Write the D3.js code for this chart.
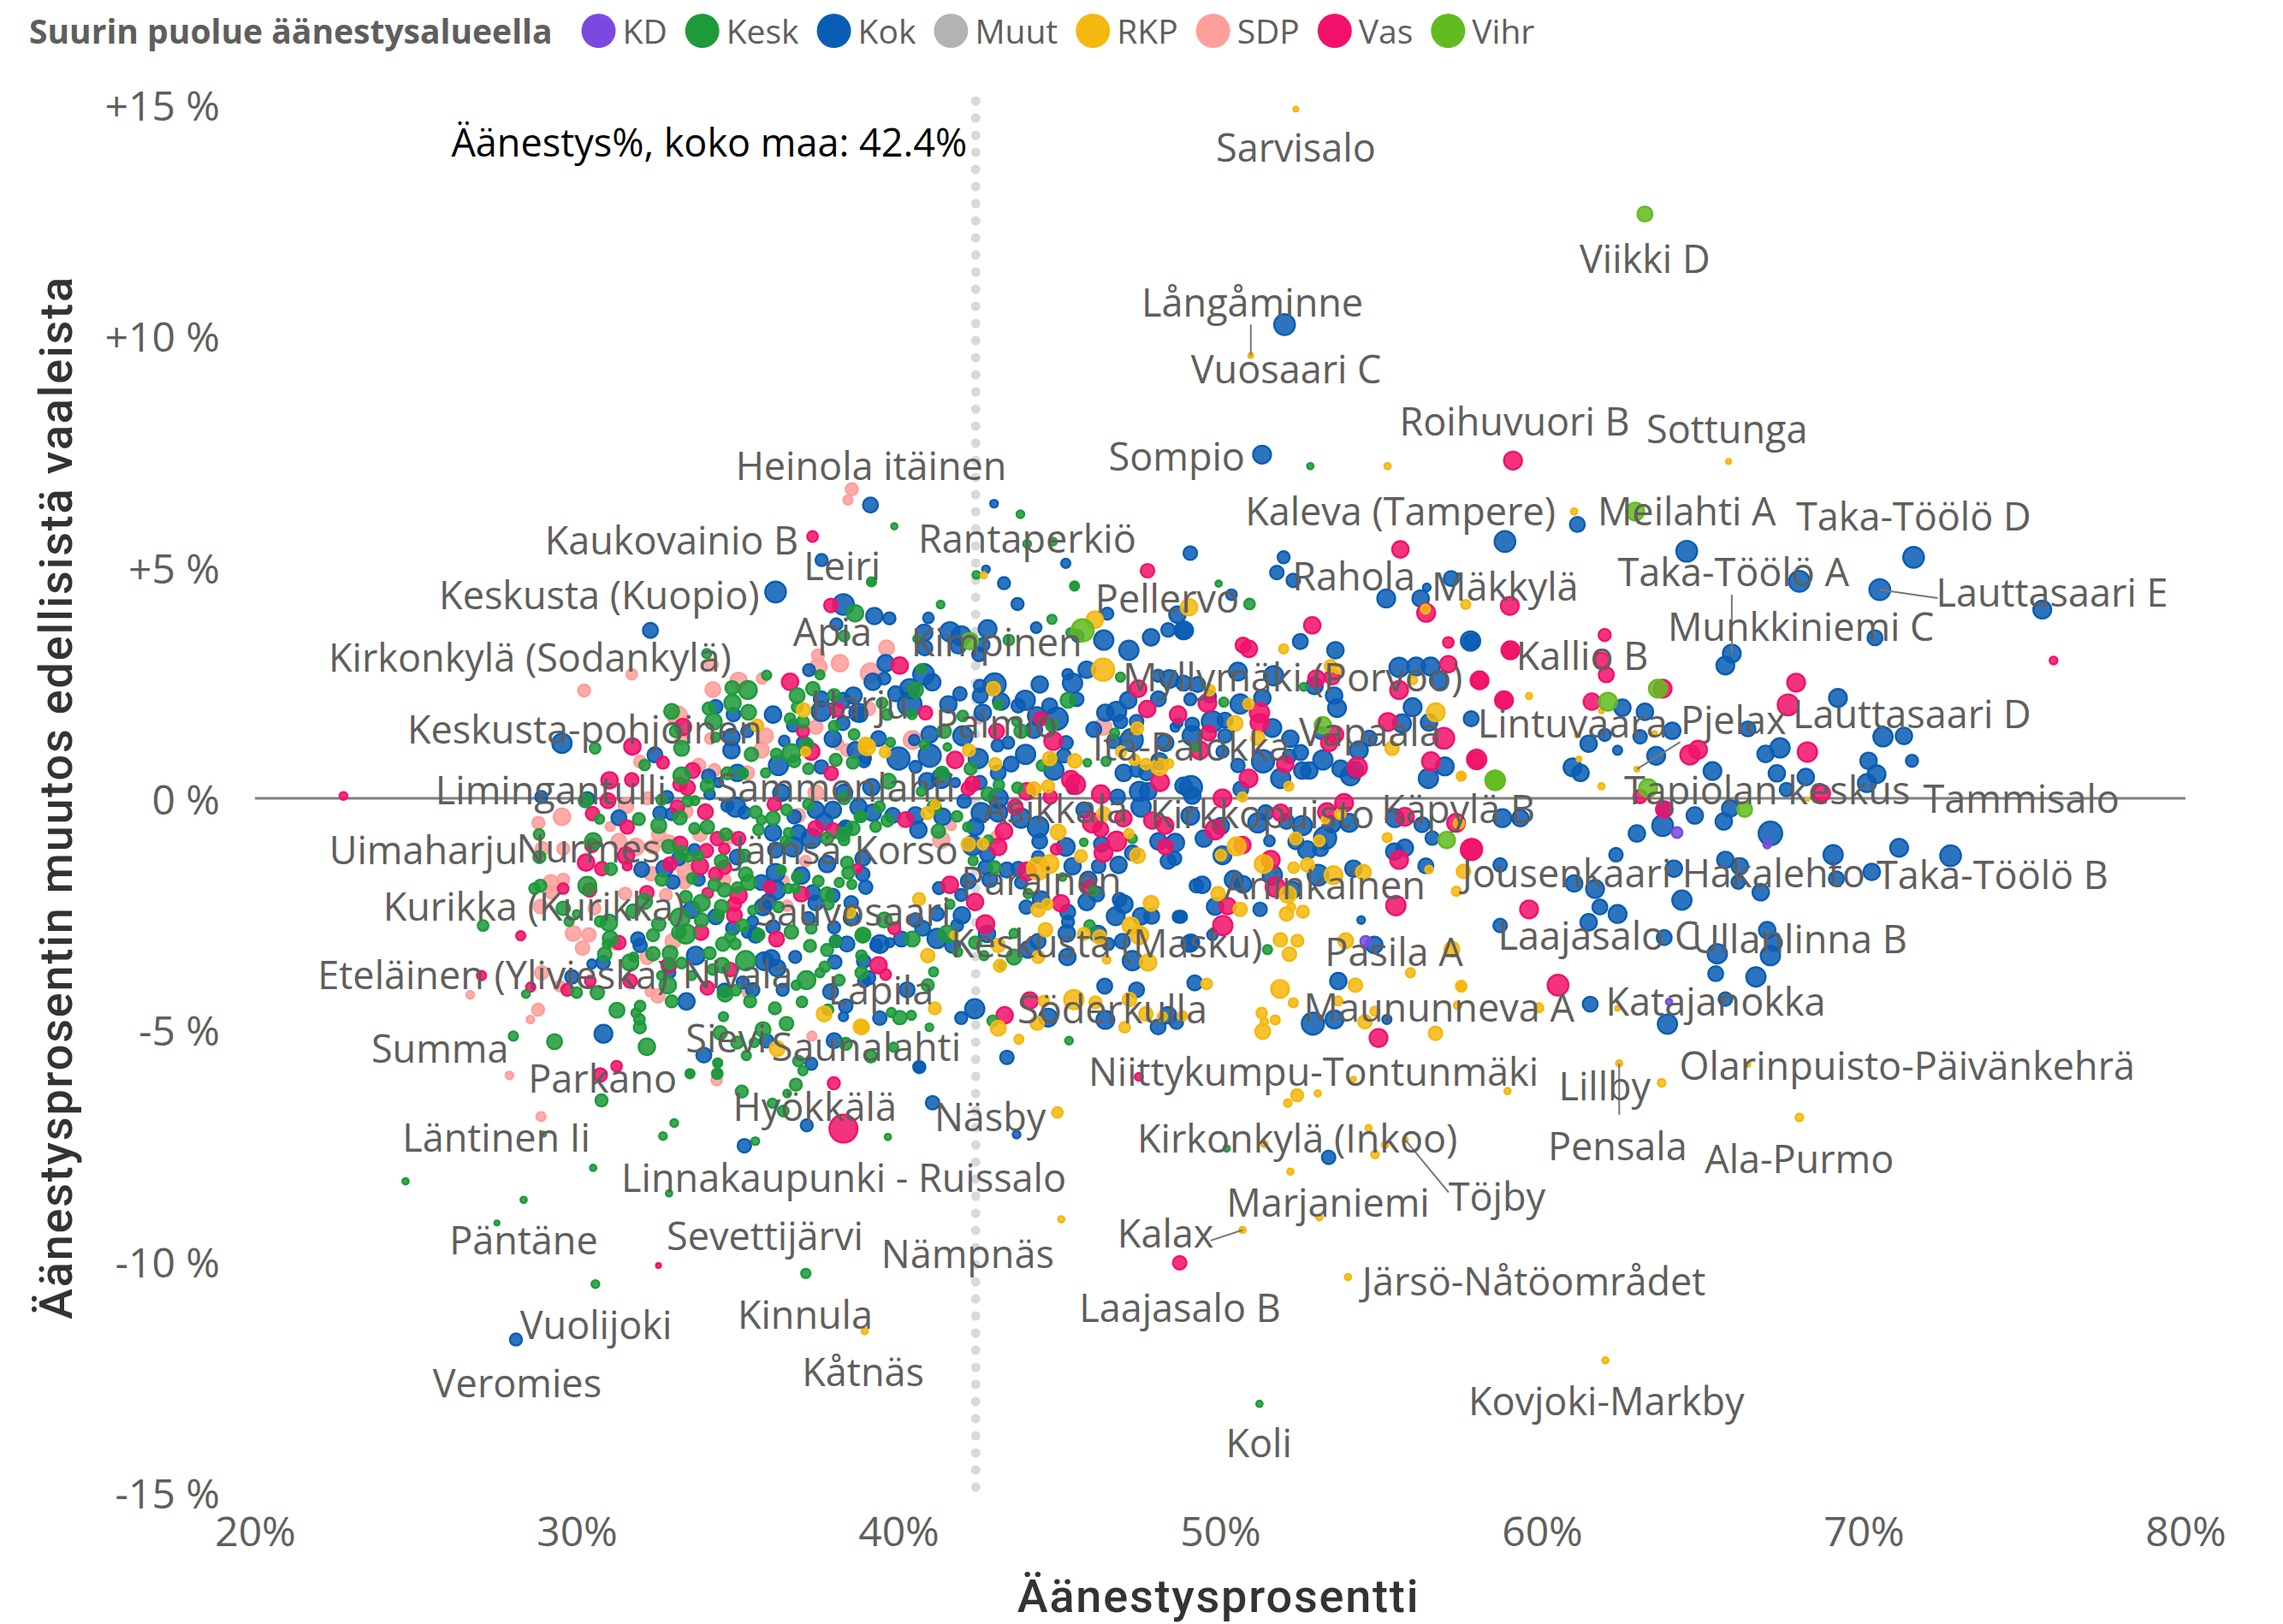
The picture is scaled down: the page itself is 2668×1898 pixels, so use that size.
<!DOCTYPE html>
<html>
<head>
<meta charset="utf-8">
<script src="https://cdn.jsdelivr.net/npm/d3@7"></script>
<style>
  html, body { margin: 0; background: #fff; }
  svg { display: block; }
  text { font-family: "Open Sans", sans-serif; }
</style>
</head>
<body>
<svg id="chart" width="2668" height="1898"></svg>
<script>
// [turnout %, change from previous election, marker size]
const sdp = [[38.55,6.68,8],[38.43,6.45,6],[39.63,3.25,10],[39.13,2.71,13],[40.28,2.29,6],[39.07,1.94,9],[42.48,1.73,7],[46.36,1.55,11],[40.44,1.26,12],[41.64,-0.59,6],[38.18,2.92,11],[37.5,3.09,8],[37.51,2.84,11],[31.71,2.68,7],[30.23,2.33,8],[34.19,2.89,8],[35.76,2.59,7],[35.03,2.54,11],[34.23,2.35,10],[33.13,1.78,13],[37.43,1.54,9],[35.87,1.35,10],[35.74,1.04,10],[33.26,1.29,8],[34.15,1.29,7],[31.97,0.79,8],[38.13,1.17,7],[38.4,1.04,8],[33.79,0.71,9],[34.28,0.61,8],[35.3,0.55,9],[31.53,-0.16,10],[32.2,0,8],[33.39,-0.28,9],[29.54,-0.4,11],[28.81,-0.53,8],[31.04,-0.61,6],[36.89,-0.37,9],[37.43,0.12,10],[28.93,-1.09,9],[29.58,-1.09,8],[31.31,-0.93,10],[31.84,-1.05,11],[32.37,-1.05,9],[32.55,-0.78,9],[32.86,-0.96,10],[32.31,-1.63,9],[33.39,-1.58,11],[33.35,-1.82,8],[33.83,-0.78,9],[34.77,-0.84,8],[34.57,-1.76,9],[32.77,-2.09,8],[31.51,-2.06,8],[32.99,-3.09,10],[29.89,-2.92,10],[30.38,-2.95,9],[30.18,-3.24,9],[31.18,-3.14,8],[32.19,-3.44,9],[29.2,-1.82,10],[29.58,-1.76,8],[29.22,-2.04,8],[28.87,-2.34,9],[30.55,-2.38,8],[28.91,-3.77,9],[29.47,-4.06,7],[32.52,-4.27,9],[32.28,-4.18,6],[28.8,-4.57,8],[28.56,-4.78,5],[35.3,-4.21,6],[36.43,-1.79,7],[37.11,-1.36,7],[36.54,-2.32,7],[37.31,-5.14,6],[34.35,-6.09,7],[38.86,-4.99,6],[38.87,-4.99,6],[26.69,-4.25,5],[27.91,-5.99,5],[28.89,-6.88,6],[41.33,-0.9,11],[43.06,-0.84,8]];

const vas = [[37.33,5.66,7],[40.04,2.87,11],[40.84,1.85,9],[44.43,1.72,9],[43.05,1.45,10],[44.81,1.24,12],[41.76,0.83,11],[42.3,0.31,10],[42.17,0.21,9],[43.99,0.15,11],[45.36,0.4,12],[45.5,0.3,13],[44.72,0.03,9],[46.29,0.09,12],[47.45,2.37,11],[47.73,1.93,11],[48.69,1.81,11],[48.13,0.35,12],[40.22,-0.46,10],[43.28,-0.71,11],[43.63,-0.19,10],[46.03,-0.53,13],[46.99,-0.43,11],[46.29,-0.67,10],[47.89,-0.48,11],[48.29,-0.59,11],[43.1,-1.05,11],[44.9,-1.1,7],[46.37,-1.18,12],[46.78,-0.93,13],[48.29,-1.05,10],[43.99,-1.58,12],[41.6,-1.87,11],[42.38,-2.24,11],[45.05,-2.27,11],[45.94,-1.92,9],[42.7,-2.72,12],[39.87,-2.81,8],[39.38,-3.61,11],[39.6,-3.81,7],[44.08,-4.37,11],[43.3,-4.69,11],[37.9,4.17,9],[36.63,2.52,11],[38.09,1.91,9],[37.03,1.45,8],[33.3,1.54,11],[31.73,1.12,11],[32.68,0.77,8],[37.29,1.01,11],[37.91,0.54,9],[33.6,0.6,10],[31.02,0.39,11],[31.71,0.4,9],[33.21,0.3,9],[33.44,0.23,10],[30.97,-0.05,10],[33.13,-0.19,9],[34,-0.29,10],[30.49,-0.33,9],[31.57,-0.62,9],[36.14,-0.13,9],[37.43,-0.65,10],[37.96,-0.68,9],[30.47,-1.02,9],[30.29,-1.39,11],[30.78,-1.52,9],[31.53,-1.24,11],[31.57,-1.46,6],[33.21,-0.99,10],[32.9,-1.42,9],[34.03,-1.13,9],[33.83,-1.47,11],[34.37,-0.87,9],[35.03,-0.87,9],[34.59,-1.09,7],[34.32,-1.64,9],[34.59,-1.49,9],[35.03,-2.1,11],[34.9,-2.29,9],[34.9,-2.53,10],[34.07,-2.05,7],[33.86,-2.9,10],[32.18,-2.04,9],[31.31,-3.12,9],[30.4,-1.98,9],[29.58,-1.95,7],[32.86,-3.61,10],[31.66,-3.95,9],[30.42,-3.95,7],[29.71,-4.14,8],[34.77,-3.7,9],[34.06,-4.1,9],[36,-1.92,8],[36.98,-2.07,10],[38.71,-1.52,6],[36.21,-3.04,10],[28.26,-2.97,6],[27.04,-3.83,6],[28.57,-4.08,6],[31.24,-5.79,7],[30.73,-5.98,9],[37.99,-6.16,8],[38.29,-7.14,19],[32.54,-10.1,3],[47.47,-6.02,5],[48.74,-10.04,9],[47.74,4.92,9],[55.6,5.38,11],[59.1,7.3,12],[52.86,3.74,11],[50.71,3.31,10],[50.89,3.23,11],[56.4,4.01,12],[59,4.16,12],[57.09,3.37,7],[59.02,3.2,12],[57.09,2.9,11],[52.99,2.59,11],[53.48,2.62,10],[55.56,2.34,12],[58.06,2.55,12],[58.82,2.12,12],[49.6,2.06,12],[51.22,1.85,13],[51.22,1.63,12],[55.21,1.65,12],[53.57,1.38,11],[56.95,1.3,14],[49.64,1.41,10],[49.36,1.04,12],[53.39,1.2,11],[52.02,0.74,11],[54.26,0.67,13],[56.55,0.8,12],[57.97,0.84,13],[50.88,0.43,12],[50.07,0,12],[53.85,-0.1,12],[49.84,-0.68,13],[51.88,-0.31,11],[53.32,-0.3,12],[55.74,-0.4,12],[57.33,-0.53,12],[50.69,-1.01,11],[55.56,-1.33,12],[57.82,-1.1,14],[51.57,-1.33,12],[51.71,-1.92,13],[50.23,-2.33,11],[55.46,-2.32,13],[50.08,-2.75,13],[54.92,-5.18,12],[61.95,3.53,8],[59,3.18,10],[61.85,2.99,10],[62,2.67,10],[58.05,2.55,10],[58.8,2.12,10],[63.75,2.37,12],[67.9,2.5,12],[67.65,2.02,14],[61.55,2.09,11],[64.6,0.94,13],[64.85,1.05,12],[68.25,1,13],[75.9,2.98,5],[57.95,0.83,10],[68.7,0.11,11],[63.05,0.04,9],[63.8,-0.24,11],[57.8,-1.11,14],[59.6,-2.4,12],[60.5,-4.04,14],[22.75,0.05,5]];

const kok = [[36.18,4.46,14],[38.29,4.19,14],[32.29,3.63,10],[38.07,3.76,8],[37.22,2.77,8],[34.32,1.98,9],[34.87,1.81,9],[36.1,1.81,11],[37.6,2.15,10],[38.6,2.22,11],[37.6,1.88,13],[38.27,2.12,10],[38.75,1.85,12],[38.27,1.62,9],[36.72,1.57,8],[35.3,1.45,8],[34.81,1.32,11],[34.81,1.04,11],[36.45,1.24,7],[29.54,1.19,13],[32.43,0.94,10],[37.96,1.29,11],[38.67,1.04,11],[37.05,1.2,9],[36.27,0.71,13],[37.6,0.68,9],[38.93,0.8,8],[34.1,0.48,9],[34.99,0.55,11],[34.41,0.34,6],[34.13,0.09,7],[30.33,-0.01,9],[28.9,0.03,8],[32.81,0.03,8],[32.59,-0.32,9],[32.95,-0.34,8],[31.31,-0.42,10],[34.94,-0.19,13],[34.68,-0.16,8],[35.21,-0.31,8],[36.76,-0.4,9],[36.36,0.12,11],[37.43,-0.25,11],[37.96,-0.25,11],[38.31,0.12,11],[38.76,-0.19,11],[37.69,-0.5,11],[38.31,-0.68,10],[36.1,-0.74,11],[36.89,-0.74,10],[32.02,-1.54,10],[32.73,-1.52,11],[32.99,-1.81,9],[33.17,-1.3,9],[33.66,-1.12,8],[33.79,-1.76,8],[34.99,-1.27,10],[33.57,-2.41,11],[34.32,-2.56,10],[31.9,-3.04,9],[31.97,-3.18,9],[30.82,-3.55,9],[30.47,-3.58,6],[33.7,-3.4,12],[32.9,-3.77,7],[29.85,-3.86,9],[33.41,-4.39,11],[30.83,-5.09,12],[33.95,-5.55,10],[34.59,-4.15,9],[35.47,-4.14,9],[35.16,-3.98,8],[35.83,-3.52,12],[36.05,-3.46,11],[36.23,-3.67,11],[36.4,-4.14,8],[36.79,-3.43,8],[37.89,-4.18,10],[38.02,-3.54,9],[35.9,-5.24,9],[37.29,-5.74,8],[38,-5.24,10],[38.36,-4.49,9],[38.29,-4.72,6],[37.29,-0.87,13],[36.72,-1.05,13],[36.18,-1.12,10],[36.18,-1.61,12],[35.74,-1.82,10],[36.18,-1.98,13],[36.98,-1.67,11],[37.34,-2.04,10],[37.43,-2.26,10],[37.96,-2.1,9],[38.98,-1.92,9],[38.89,-1.64,9],[37.78,-1.42,11],[38.36,-0.62,9],[38.89,-1.3,10],[38.53,-2.26,9],[38.53,-2.59,10],[38,-2.79,8],[38.4,-3.15,10],[38.05,-3.09,8],[37.2,-2.59,8],[35.56,-2.96,10],[35.3,-2.9,7],[34.85,-2.81,9],[35.47,-2.66,7],[36.1,-2.78,9],[35.79,-2.35,11],[35.96,-2.23,10],[37.15,-7.07,8],[41.06,-6.58,9],[35.21,-7.51,9],[40.63,-5.8,7],[28.11,-11.7,8],[43.67,-7.27,5],[39.25,3.94,11],[39.72,3.89,8],[40.93,3.9,7],[43.7,4.2,8],[43.28,4.65,8],[44.28,3.69,7],[46.49,3.99,8],[45.57,3.51,8],[46.38,3.42,13],[48.67,3.97,11],[48.38,3.64,9],[48.86,3.63,12],[47.85,3.48,11],[47.16,3.2,13],[40.8,3.58,11],[40.82,3.25,10],[41.6,3.6,13],[41.95,3.51,13],[41.86,3.29,10],[42.5,3.11,9],[42.62,3.32,9],[42.77,3.66,12],[39.6,2.92,11],[39.2,2.52,11],[39.56,2.59,8],[40.78,2.68,14],[41.05,2.51,11],[41.91,2.26,9],[40.35,2.37,13],[39.91,2.26,10],[40.35,2.03,16],[38.8,1.81,10],[41.55,2.03,11],[42.53,2.43,8],[42.99,2.46,15],[42.54,2.22,10],[43.19,2.09,11],[42.62,1.85,11],[44.39,2.46,11],[43.94,2.12,13],[43.72,2,9],[44.3,1.78,12],[44.92,1.72,15],[44.7,2,10],[44.21,1.48,11],[42,1.35,13],[40.97,1.38,11],[45.54,2.14,9],[45.41,2.49,13],[45.26,2.68,7],[45.85,2.78,11],[47.14,2.12,11],[48.08,2.15,10],[48.42,2.58,12],[48.07,2.65,8],[48.86,2.49,10],[46.43,1.85,11],[46.78,1.88,13],[46.9,1.66,9],[46.07,1.49,10],[47.4,1.66,9],[48.6,1.54,6],[48.69,1.63,6],[47.25,1.26,15],[46.69,1.23,9],[48.29,1.2,11],[45.21,1.2,9],[45.14,0.92,9],[47,0.55,11],[47.4,0.61,9],[47.71,0.55,10],[48.11,0.8,11],[43.95,0.95,13],[43.41,1.2,8],[43.08,1.14,8],[43.5,0.74,10],[44.83,0.61,13],[42.48,0.86,13],[43.1,0.55,10],[40.97,0.92,15],[40.49,1.26,7],[39.38,1.29,10],[40,0.86,15],[38.98,0.86,7],[41.33,0.43,13],[40.53,0.68,8],[41.77,0.34,6],[42.53,0.34,9],[45.41,0.21,7],[43.1,0,13],[46.81,0.03,10],[47.49,0.15,13],[47.76,0.15,11],[48.86,0.27,11],[39.16,0.24,11],[40.89,0.37,11],[42.04,-0.06,9],[41.37,-0.4,11],[40.53,-0.37,11],[39.82,-0.37,10],[39.2,-0.31,11],[40.62,-0.68,11],[42.57,-0.31,13],[42.39,-0.62,11],[43.1,-0.31,12],[43.81,-0.43,13],[44.34,-0.62,14],[45.76,-0.25,10],[47.54,-0.19,13],[42.3,-1.02,13],[42.77,-1.21,10],[44.39,-0.93,10],[45.2,-1.05,12],[46.31,-0.99,10],[47.27,-1.18,10],[48.08,-0.93,11],[48.6,-0.96,12],[48.38,-1.36,10],[48.58,-1.3,9],[44.34,-1.27,8],[45.41,-1.47,11],[46.22,-1.47,9],[46.84,-1.44,11],[45.9,-1.76,11],[46.16,-2.07,10],[45.85,-2.24,11],[46.87,-2.19,9],[47,-2.29,12],[46.75,-2.55,12],[47.54,-2.55,11],[47.87,-2.55,10],[48.71,-2.56,8],[49.26,-1.89,9],[43.72,-1.52,9],[43.37,-1.55,10],[42.7,-1.49,9],[42.84,-1.76,10],[43.81,-1.82,8],[42.17,-1.79,10],[41.26,-1.94,8],[41.95,-2.09,8],[43.97,-2.35,9],[44.43,-2.19,11],[45.26,-2.46,10],[45.27,-2.67,8],[45.23,-2.92,11],[45.25,-3.43,11],[46.2,-2.93,11],[46.52,-3.15,8],[46.96,-3.09,10],[47.27,-3.51,13],[49.09,-3.12,11],[41.97,-2.53,11],[41.2,-2.5,9],[40.53,-2.63,9],[41.82,-2.75,8],[42.75,-2.93,11],[41.2,-3.03,13],[40.09,-3.04,10],[40.75,-2.81,10],[39.42,-3.15,12],[39.31,-3.18,8],[39.73,-3.12,6],[41.68,-3.18,10],[44.03,-3.27,11],[44.34,-3.09,10],[38.92,-3.52,9],[39.07,-3.88,9],[38.93,-3.95,8],[40.27,-4.14,10],[39.42,-4.75,9],[42.37,-4.55,13],[41.95,-4.75,8],[43.37,-5.6,9],[40.65,-5.81,8],[44.65,-4.74,12],[46.43,-4.79,12],[48.07,-4.94,10],[47.4,-4.14,10],[46.41,-4.06,10],[48.38,-4.69,11],[48.64,-4.84,9],[45.2,5.08,6],[49.07,5.3,9],[51.97,5.21,8],[51.76,4.88,9],[52.27,4.71,9],[57.18,4.75,10],[42.97,6.37,5],[42.72,4.95,5],[39.13,6.34,10],[37.61,5.15,8],[52,10.24,14],[51.3,7.43,12],[61.1,5.92,10],[55.16,4.32,12],[56.23,4.32,11],[56.42,4.56,5],[48.9,3.63,11],[50.35,4.4,7],[52.49,3.39,10],[53.58,3.2,11],[57.78,3.4,13],[50.55,2.74,12],[51.66,2.65,13],[55.56,2.83,13],[56.09,2.85,12],[56.54,2.85,12],[52.93,2.43,11],[56.8,2.55,12],[49.3,2.46,10],[49.07,2.14,8],[49.68,2.2,8],[50.62,2.04,13],[51.31,2.17,11],[53.54,2.22,11],[53.63,1.95,12],[55.98,1.97,12],[55.65,1.62,12],[56.49,1.64,11],[53.12,1.41,8],[54.63,1.3,10],[49.13,1.6,9],[49.75,1.66,14],[50.15,1.69,10],[51.62,1.52,12],[50.15,1.35,9],[49.13,1.35,13],[50.07,1.01,8],[52.18,1.29,11],[52.5,0.99,10],[54.31,1.04,12],[53.19,0.83,13],[52.15,0.91,9],[51.33,0.8,15],[50.55,0.71,9],[52.55,0.6,11],[52.77,0.6,11],[53.74,0.64,11],[54.05,0.49,13],[54.19,0.61,11],[56.98,0.69,12],[56.47,0.43,13],[51.88,0.43,13],[50.64,0.2,10],[49.09,0.24,15],[49.13,0.06,11],[49.07,-0.38,12],[50.02,-0.6,11],[51.41,-0.31,10],[51.17,-0.53,13],[52.06,-0.5,10],[52.55,-0.59,13],[54.01,-0.53,12],[53.48,-0.56,11],[55.43,-0.43,12],[56.27,-0.57,10],[58.77,-0.43,12],[59.33,-0.43,11],[49.49,-0.87,11],[51.53,-0.92,7],[52.35,-0.94,10],[52.7,-1.12,12],[53.26,-0.86,15],[53.12,-1.09,10],[50.07,-1.23,12],[55.41,-1.15,11],[55.74,-1.07,11],[56.59,-0.86,9],[56.39,-1.46,10],[51.62,-1.66,13],[53.04,-1.66,14],[54.14,-1.52,11],[50.42,-1.76,12],[50.71,-1.86,11],[49.44,-1.87,11],[52.24,-1.98,11],[49.84,-2.34,11],[51.24,-2.4,9],[48.78,-2.56,8],[49.76,-2.95,7],[49.05,-3.14,11],[54.38,-2.63,5],[54.79,-3.17,11],[49.21,-3.99,10],[53.67,-3.95,11],[52.88,-4.87,15],[53.55,-4.78,12],[55.18,-4.78,6],[53.37,-7.76,9],[58.85,5.55,14],[64.5,5.34,14],[71.55,5.21,14],[70.5,4.51,14],[68,4.69,14],[75.55,4.08,12],[70.35,3.47,10],[65.9,3.13,12],[65.7,2.87,12],[69.2,2.17,12],[57.8,3.39,10],[62.5,1.96,11],[63.2,1.87,11],[57.8,1.72,10],[64.05,1.46,11],[66.4,1.5,10],[61.45,1.18,11],[61.95,1.37,8],[63.05,1.33,9],[62.35,1.04,6],[63.55,0.92,12],[66.95,0.96,11],[67.4,1.09,13],[70.6,1.33,13],[71.25,1.35,11],[71.5,0.81,8],[70.15,0.81,11],[70.4,0.52,12],[70.1,0.33,12],[60.95,0.67,12],[61.2,0.55,11],[65.3,0.59,12],[67.3,0.54,11],[68.2,0.46,11],[67.6,0.19,9],[63.8,-0.24,10],[63.75,-0.59,14],[62.95,-0.76,11],[64.75,-0.37,11],[65.65,-0.5,11],[65.85,-0.22,11],[67.1,-0.76,16],[69.05,-1.22,13],[70.25,-1.59,11],[71.1,-1.07,12],[72.7,-1.24,14],[69.15,-1.74,10],[65.7,-1.33,11],[66.15,-1.47,11],[66.1,-1.81,9],[66.8,-2.03,11],[64.1,-1.52,11],[62.3,-1.22,9],[61,-1.84,11],[61.65,-1.96,12],[61.8,-2.35,10],[62.35,-2.5,12],[64.35,-2.2,13],[58.7,-1.44,9],[61.45,-2.68,11],[58.7,-2.75,9],[63.8,-3.01,10],[67,-2.85,11],[67.2,-3.12,11],[65.45,-3.36,13],[67.1,-3.4,13],[65.4,-3.79,10],[66.65,-3.86,13],[61.5,-4.45,10],[65.7,-4.34,9],[63.9,-4.88,13]];

const kesk = [[38.65,4,11],[38.31,3.51,7],[37.56,2.67,6],[34.04,3.13,6],[35.9,2.66,6],[34.83,2.39,9],[35.32,2.34,12],[34.84,2.06,11],[36.85,2.22,10],[37.34,2.37,9],[36.85,1.97,7],[36.63,1.72,7],[35.34,1.86,10],[34.1,1.94,8],[34.25,1.66,11],[32.95,1.88,10],[38,2.23,8],[38,1.56,7],[37.03,1.65,8],[33.08,1.45,8],[34.32,1.32,6],[33.26,1.08,10],[30.57,1.08,7],[32.11,0.72,7],[35.43,0.95,9],[38.62,1.38,7],[37.16,1.17,8],[36.67,0.98,12],[36.2,0.96,7],[36.76,0.8,8],[38.05,0.83,8],[38.58,0.77,8],[37.2,0.64,7],[33.26,0.49,11],[34.68,0.54,8],[35.16,0.54,7],[34.06,0.27,9],[35.87,0.55,6],[30.27,-0.05,9],[32.64,-0.03,7],[33.45,-0.06,7],[33.67,-0.05,6],[30.71,-0.45,6],[31.93,-0.45,8],[33.21,-0.42,9],[35.56,-0.3,8],[36.1,-0.43,9],[36.52,-0.25,7],[35.74,-0.47,6],[37.2,-0.13,7],[38.31,0,8],[38.58,-0.65,9],[38.84,-0.4,7],[35.65,-0.68,7],[36.58,-0.74,6],[28.83,-0.78,7],[28.84,-1.27,8],[30.51,-0.93,11],[31.06,-1.53,8],[32.55,-0.59,10],[32.86,-1.04,9],[32.64,-1.76,8],[33.26,-1.18,9],[33.79,-1.24,6],[33.48,-1.27,6],[33.59,-1.73,7],[33.66,-0.65,7],[34.06,-0.62,9],[34.63,-0.78,8],[34.5,-1.36,9],[34.28,-1.87,8],[35.25,-1.64,9],[35.34,-1.82,10],[34.99,-1.93,7],[34.59,-1.98,9],[33.39,-2.13,8],[33.88,-2.26,11],[34.5,-2.34,9],[33.88,-2.63,9],[34.41,-2.53,7],[33.39,-2.93,13],[33.17,-2.9,9],[33.21,-2.59,13],[32.55,-2.72,9],[32.37,-2.96,8],[32.11,-2.23,10],[31.75,-2.44,9],[31,-2.69,11],[31.04,-3.03,10],[30.95,-3.15,6],[30.87,-3.37,9],[30.33,-1.89,12],[28.69,-1.95,7],[28.87,-1.89,8],[29.58,-2.38,9],[29.76,-2.66,6],[30,-2.5,5],[30.73,-2.66,7],[32.9,-3.35,10],[32.37,-3.36,9],[34.13,-3.35,8],[33.26,-3.56,7],[32.88,-3.6,6],[32.64,-3.83,6],[31.66,-3.55,11],[31.77,-3.43,6],[30,-4.2,7],[30.64,-4.2,9],[32.83,-4.04,11],[32.95,-4.39,8],[31.25,-4.58,10],[31.97,-4.49,7],[31.84,-4.64,6],[31.95,-4.78,7],[31.96,-4.95,8],[29.31,-5.26,10],[32.18,-5.37,11],[33.52,-5.95,6],[34.37,-5.95,7],[34.38,-5.72,6],[33.57,-3.83,6],[34.52,-3.61,10],[34.23,-3.7,7],[34.61,-4.23,10],[34.94,-4.15,7],[35.39,-4.39,8],[35.25,-3.51,13],[36.82,-4.04,6],[37.14,-3.93,12],[37.56,-3.77,6],[37.71,-3.64,7],[38.16,-3.93,7],[37,-4.4,7],[36.16,-4.54,8],[34.56,-4.72,6],[35.79,-5,10],[36.52,-4.87,9],[34.46,-5.07,9],[34.99,-5.28,8],[35.52,-5.28,6],[35.27,-5.56,6],[36.89,-5.68,7],[37.03,-5.89,6],[38.36,-5.31,8],[37.81,-4.57,7],[36.5,-0.93,7],[35.21,-1.24,8],[36.58,-1.95,6],[36.8,-1.95,6],[36.85,-1.7,7],[36.36,-1.55,6],[37.78,-2.07,9],[37.82,-2.29,7],[37.51,-1.79,7],[38.16,-1.82,6],[38.55,-1.86,6],[38.44,-1.61,8],[38.4,-1.39,8],[38.27,-0.78,9],[37.78,-0.87,8],[38.31,-0.9,7],[38.89,-2.96,10],[38.05,-3.09,7],[37.78,-3.28,8],[37.25,-3.19,8],[36.67,-2.89,9],[37.29,-2.81,7],[35.65,-2.95,8],[35.16,-2.75,8],[35.47,-2.42,6],[36.27,-2.35,7],[34.77,-3,7],[34.54,-3.15,9],[34.93,-3.15,7],[27.09,-2.75,7],[28.42,-4.23,5],[28.03,-5.14,6],[30.77,-6.53,8],[28.97,-7.26,3],[33.03,-7.02,5],[32.68,-7.3,5],[35.55,-7.41,5],[39.67,-7.32,4],[36.08,-6.59,6],[36.42,-6.76,7],[35.13,-6.34,8],[36.81,-6.19,8],[36.54,-6.38,5],[33.52,-5.97,5],[34.35,-5.96,6],[34.39,-5.73,5],[24.68,-8.28,4],[30.51,-7.99,4],[28.35,-8.68,4],[32.87,-8.54,4],[27.52,-9.18,3],[30.58,-10.5,5],[37.12,-10.27,6],[39.87,5.88,4],[39.17,4.66,4],[43.79,6.14,5],[42.42,4.83,5],[44.8,5.55,5],[44,5.5,5],[45.48,4.58,5],[49.95,4.64,4],[39.16,4.68,6],[41.31,4.19,5],[45.47,4.59,6],[44.77,3.87,6],[45.36,3.58,6],[40.58,3.45,5],[43.43,3.42,7],[40.71,2.8,6],[40.53,2.34,10],[39.49,2.06,7],[39.65,1.81,7],[40.42,1.81,6],[43.1,2.02,6],[42,1.78,7],[43.68,1.66,6],[44.77,1.58,8],[43.81,1.45,9],[41.42,1.45,9],[45.27,2.12,10],[46.9,2.62,6],[46.72,1.41,6],[45.87,0.77,5],[46.45,0.8,6],[44.79,0.86,6],[44.46,0.71,7],[42.24,0.64,8],[40.8,1.16,6],[39.75,1.21,6],[41.52,1.11,5],[41.35,0.54,9],[39.69,0.37,10],[43.12,0.29,7],[43.7,0.23,7],[42.79,0.09,9],[40.71,0.15,6],[41.11,-0.19,9],[39.41,-0.18,7],[41.82,-0.39,7],[39.66,-0.48,8],[42.15,-0.62,6],[38.8,-0.4,7],[39.29,-0.61,7],[41.24,-0.71,9],[42.79,-0.9,6],[42.32,-1.35,6],[45.76,-0.95,5],[47.27,-0.87,6],[45.1,-1.7,5],[46.05,-2.01,6],[42.99,-1.49,8],[44.03,-2.06,6],[45.94,-2.75,7],[41.6,-2.29,6],[41.51,-2.93,11],[40.43,-3.04,10],[38.92,-2.95,9],[39.56,-2.63,10],[42.38,-3.12,8],[41.84,-3.32,6],[42.66,-3.4,6],[43.59,-3.43,10],[43.59,-2.92,6],[38.85,-3.4,7],[38.85,-3.77,8],[41.09,-3.75,6],[43.22,-3.61,5],[40.91,-4.04,8],[39.78,-4.63,6],[40.04,-4.74,9],[40.4,-4.69,6],[40.96,-4.95,5],[42.93,-4.81,7],[45.3,-5.24,5],[39.85,-5.38,6],[39.14,-5.58,8],[52.8,7.18,4],[50.91,4.2,7],[52.59,2.41,5],[50.11,2.08,6],[49.24,1.11,5],[51.47,-3.27,6],[50.2,-7.57,4],[51.22,-13.09,4]];

const rkp = [[52.35,14.9,3],[50.95,9.57,3],[55.2,7.18,4],[65.8,7.28,3],[61,6.2,4],[42.65,4.82,4],[46.1,3.86,11],[46.36,2.78,15],[42.95,2.37,9],[47.42,1.51,8],[46.92,1.01,7],[47.34,0.83,7],[47.69,0.74,7],[48.11,0.68,11],[48.4,0.75,6],[45.48,0.81,9],[44.7,0.86,9],[43.01,0.74,8],[42.19,1.04,8],[39.58,1,7],[39.02,1.11,11],[44.21,0.2,9],[44.65,0.26,8],[41.15,-0.13,6],[40.9,-0.32,8],[44.96,-0.73,10],[46.38,-0.34,9],[42.17,-0.99,9],[42.62,-0.99,7],[45.67,-1.25,8],[47.16,-0.76,6],[47.43,-1.24,10],[44.7,-1.42,12],[44.34,-1.52,15],[44.34,-2.41,9],[44.63,-2.29,7],[47.85,-2.27,10],[44.57,-2.84,9],[45.76,-2.93,8],[46.25,-3,9],[47.22,-2.75,11],[47.49,-2.96,12],[47.76,-3.55,11],[46.47,-3.49,5],[40.64,-2.18,8],[41.73,-2.96,5],[43.1,-3.18,9],[44.34,-3.43,8],[40.91,-3.4,9],[43.15,-3.62,8],[41.13,-4.54,8],[38.87,-4.95,9],[43.1,-4.97,10],[43.74,-5.21,6],[44.52,-4.38,7],[45.45,-4.35,13],[44.31,-4.86,9],[46.12,-4.41,8],[47.03,-4.95,7],[47.18,-4.35,9],[47.69,-4.66,9],[48.2,-4.72,6],[48.82,-4.71,6],[37.05,1.91,9],[35.61,1.57,8],[37.11,1.01,6],[38.98,1.17,9],[38.49,-2.47,7],[37.69,-4.66,10],[38.84,-4.94,10],[36.23,-5.41,10],[44.94,-6.79,7],[54.14,-6.07,3],[53.03,-6.38,4],[52.39,-6.42,8],[52.1,-6.59,5],[58.93,-6.33,4],[62.4,-5.73,4],[63.72,-6.15,5],[66.4,-5.75,3],[68,-6.9,5],[54.61,-7.13,4],[51.37,-7.47,4],[54.81,-7.7,5],[55.12,-7.49,4],[55.75,-7.38,3],[52.18,-8.07,4],[53.08,-9.06,4],[50.69,-9.33,4],[45.06,-9.1,4],[53.97,-10.35,4],[61.97,-12.15,4],[38.95,-11.52,4],[56.38,4.09,6],[57.63,4.19,6],[49.03,4.13,11],[51.97,3.23,6],[53.43,2.86,8],[53.66,2.8,6],[56,2.55,5],[49.67,2.34,7],[50.88,2.04,7],[56.7,1.86,12],[55.34,1.08,9],[50.46,1.62,10],[51.17,1.3,9],[57.49,0.48,6],[52.13,0.26,6],[50.69,0.03,6],[53.27,-0.46,5],[53.73,-0.34,7],[57.42,-0.54,7],[52.35,-0.87,8],[53.08,-0.92,7],[50.51,-1.04,12],[50.02,-1.23,7],[55.19,-0.85,6],[56.49,-1.54,5],[57.56,-1.58,9],[57.34,-2.01,6],[51.35,-1.42,12],[52.28,-1.5,7],[52.71,-1.44,9],[53.52,-1.66,12],[54.45,-1.6,10],[49.93,-2.06,9],[52.1,-2.08,11],[50.62,-2.4,9],[52.21,-2.35,5],[52.06,-2.5,9],[52.57,-2.45,8],[51.87,-3.06,9],[52.4,-3.08,8],[52.15,-3.37,9],[53.9,-3.08,10],[57.2,-3.26,10],[55.91,-3.77,6],[49.58,-4.01,7],[54.2,-4.04,9],[51.86,-4.12,12],[52.27,-4.42,6],[57.49,-4.06,7],[53.66,-4.38,6],[51.29,-4.64,7],[51.37,-4.83,5],[51.71,-4.79,6],[51.32,-5.04,10],[54.5,-4.83,9],[54.81,-4.6,6],[57.38,-4.47,5],[56.69,-5.08,9],[48.82,-4.7,6],[61.1,1.37,3],[63.5,1.4,3],[61.85,1.89,3],[59.6,2.21,4],[61.15,0.85,3],[62.95,0.63,3],[61.85,0.26,4],[57.5,0.48,3],[68.25,-0.02,2],[59.9,-4.53,6],[57.5,-4.08,6],[62.35,-4.54,3]];

const vihr = [[63.2,12.63,10],[62.9,6.2,12],[42.22,3.4,11],[45.72,3.63,15],[53.19,1.58,11],[57.04,-0.9,11],[58.54,0.39,13],[63.6,2.37,12],[62.05,2.09,12],[58.55,0.39,13],[63.3,0.22,12],[66.3,-0.24,10]];

const kd = [[54.52,-3.09,7],[64.2,-0.74,7],[67,-1,5],[63.95,-4.4,4]];

const muut = [];

const partyNames = ["KD", "Kesk", "Kok", "Muut", "RKP", "SDP", "Vas", "Vihr"];
const partyColors = ["#7A4AE0", "#1E9A3A", "#0A5DB4", "#B3B3B3", "#F4B80E", "#FF9E9B", "#F2116A", "#62BB1F"];

const xTicks = [20, 30, 40, 50, 60, 70, 80];
const yTicks = [15, 10, 5, 0, -5, -10, -15];
const nationalTurnout = 42.4;

// label name, turnout, change: where the label centre sits
const labels = [["Sarvisalo",52.35,14.05],["Viikki D",63.2,11.65],["Långåminne",51,10.7],["Vuosaari C",52.05,9.26],["Roihuvuori B",59.15,8.13],["Sottunga",65.75,7.97],["Sompio",48.65,7.37],["Heinola itäinen",39.15,7.18],["Kaleva (Tampere)",55.6,6.2],["Meilahti A",64.5,6.2],["Taka-Töölö D",71.55,6.08],["Rantaperkiö",44,5.6],["Kaukovainio B",32.95,5.57],["Leiri",38.25,5],["Rahola",54.15,4.79],["Mäkkylä",58.85,4.57],["Taka-Töölö A",65.95,4.88],["Lauttasaari E",75.85,4.44],["Keskusta (Kuopio)",30.7,4.38],["Pellervo",48.35,4.31],["Munkkiniemi C",68.05,3.69],["Apia",37.95,3.59],["Kimpinen",43.05,3.37],["Kirkonkylä (Sodankylä)",28.55,3.02],["Kallio B",61.25,3.06],["Myllymäki (Porvoo)",52.25,2.61],["Harju",38.8,2.02],["Paimio",43.05,1.61],["Lauttasaari D",71.5,1.8],["Pjelax",65.95,1.67],["Lintuvaara",60.95,1.61],["Keskusta-pohjoinen",30.25,1.48],["Vapaala",54.65,1.42],["Itä-Palokka",49.1,1.1],["Limingantulli",29.2,0.16],["Sammonlahti",38.06,0.22],["Tapiolan keskus",67,0.16],["Tammisalo",74.9,-0.03],["Asikkala",44.87,-0.25],["Kirkkopuisto",51.3,-0.35],["Käpylä B",57.4,-0.24],["Uimaharju",25.24,-1.13],["Nurmes",30.36,-1.09],["Jämsä",36.57,-1.13],["Korso",40.24,-1.13],["Parainen",44.44,-1.79],["Jousenkaari",60.77,-1.63],["Hakalehto",67.2,-1.63],["Taka-Töölö B",74,-1.67],["Aninkainen",53.25,-1.89],["Kurikka (Kurikka)",28.67,-2.35],["Sauvosaari",38.6,-2.46],["Keskusta (Masku)",46.47,-3.15],["Pasila A",55.4,-3.34],["Laajasalo C",61.75,-2.99],["Ullanlinna B",68,-3.06],["Eteläinen (Ylivieska)",27.4,-3.84],["Nivala",35,-3.81],["Lapila",39.45,-4.16],["Söderkulla",46.65,-4.57],["Maununneva A",56.8,-4.54],["Katajanokka",65.4,-4.41],["Summa",25.75,-5.42],["Sievi",34.65,-5.2],["Saunalahti",39,-5.38],["Parkano",30.8,-6.08],["Niittykumpu-Tontunmäki",52.9,-5.92],["Olarinpuisto-Päivänkehrä",71.35,-5.8],["Lillby",61.95,-6.24],["Hyökkälä",37.4,-6.68],["Näsby",42.85,-6.9],["Läntinen Ii",27.5,-7.34],["Kirkonkylä (Inkoo)",52.4,-7.37],["Pensala",62.35,-7.53],["Ala-Purmo",68,-7.81],["Linnakaupunki - Ruissalo",38.3,-8.22],["Töjby",58.6,-8.63],["Marjaniemi",53.35,-8.76],["Sevettijärvi",35.85,-9.48],["Kalax",48.3,-9.42],["Päntäne",28.35,-9.57],["Nämpnäs",42.15,-9.86],["Järsö-Nåtöområdet",59.75,-10.46],["Laajasalo B",48.75,-11.02],["Kinnula",37.1,-11.18],["Vuolijoki",30.6,-11.4],["Kåtnäs",38.9,-12.41],["Veromies",28.15,-12.66],["Kovjoki-Markby",62,-13.04],["Koli",51.2,-13.95]];

// leader lines between a point and its label
const leaders = [[70.5,4.51,72.3,4.33],[65.9,4.4,65.9,3.13],[64.3,1.22,62.95,0.63],[62.4,-5.73,62.4,-6.84],[55.75,-7.38,57.1,-8.52],[49.7,-9.56,50.7,-9.33],[50.95,10.24,50.95,9.57]];

const x = d3.scaleLinear().domain([20, 80]).range([298, 2554]);
const y = d3.scaleLinear().domain([-15, 15]).range([1744, 122]);
const r = d3.scaleLinear().domain([0, 16]).range([1.5, 15]);
const color = d3.scaleOrdinal().domain(partyNames).range(partyColors);

const svg = d3.select("#chart");
const grey = "#605E5C";

// x axis
svg.append("g")
    .attr("transform", "translate(0,1744)")
    .call(d3.axisBottom(x).tickValues(xTicks).tickFormat(d => d + "%").tickSize(0).tickPadding(29))
    .call(g => g.select(".domain").remove())
    .selectAll("text")
    .style("font-family", '"Open Sans", sans-serif')
    .style("font-size", "48px")
    .attr("fill", grey);

// y axis
svg.append("g")
    .attr("transform", "translate(257,3)")
    .call(d3.axisLeft(y).tickValues(yTicks).tickFormat(d => (d > 0 ? "+" : "") + d + " %").tickSize(0).tickPadding(0))
    .call(g => g.select(".domain").remove())
    .selectAll("text")
    .style("font-family", '"Open Sans", sans-serif')
    .style("font-size", "48px")
    .attr("fill", grey);

svg.append("text")
    .attr("x", 1424).attr("y", 1884)
    .attr("text-anchor", "middle")
    .style("font-family", "Roboto, sans-serif")
    .style("font-size", "54px")
    .style("font-weight", 500)
    .style("letter-spacing", "1.8px")
    .attr("fill", "#333")
    .text("Äänestysprosentti");

svg.append("text")
    .attr("transform", "translate(84,932) rotate(-90)")
    .attr("text-anchor", "middle")
    .style("font-family", "Roboto, sans-serif")
    .style("font-size", "54px")
    .style("font-weight", 500)
    .style("letter-spacing", "1.8px")
    .attr("fill", "#333")
    .text("Äänestysprosentin muutos edellisistä vaaleista");

// national turnout reference line
svg.append("line")
    .attr("x1", x(nationalTurnout)).attr("x2", x(nationalTurnout))
    .attr("y1", 118).attr("y2", y(-15))
    .attr("stroke", "#D9D9D9")
    .attr("stroke-width", 11)
    .attr("stroke-linecap", "round")
    .attr("stroke-dasharray", "0 20");

svg.append("text")
    .attr("x", x(nationalTurnout) - 10).attr("y", 183)
    .attr("text-anchor", "end")
    .style("font-size", "45px")
    .attr("fill", "#000")
    .text("Äänestys%, koko maa: " + nationalTurnout + "%");

svg.append("line")
    .attr("x1", x(20)).attr("x2", x(80))
    .attr("y1", y(0)).attr("y2", y(0))
    .attr("stroke", "#808080")
    .attr("stroke-width", 3);

// points, party by party
const seriesOrder = [["SDP", sdp], ["Kok", kok], ["Vas", vas], ["Kesk", kesk], ["RKP", rkp], ["Vihr", vihr], ["KD", kd], ["Muut", muut]];

svg.append("g").selectAll("g")
    .data(seriesOrder)
    .join("g")
    .selectAll("circle")
    .data(d => d[1].map(p => ({party: d[0], turnout: p[0], change: p[1], size: p[2]})))
    .join("circle")
    .attr("cx", d => x(d.turnout))
    .attr("cy", d => y(d.change))
    .attr("r", d => r(d.size) - 1.2)
    .attr("fill", d => color(d.party))
    .attr("fill-opacity", 0.86)
    .attr("stroke", d => color(d.party))
    .attr("stroke-width", 2.4);

svg.append("g").selectAll("line")
    .data(leaders)
    .join("line")
    .attr("x1", d => x(d[0])).attr("y1", d => y(d[1]))
    .attr("x2", d => x(d[2])).attr("y2", d => y(d[3]))
    .attr("stroke", "#777")
    .attr("stroke-width", 2);

svg.append("g").selectAll("text")
    .data(labels)
    .join("text")
    .attr("x", d => x(d[1]))
    .attr("y", d => y(d[2]))
    .attr("dy", "0.35em")
    .attr("text-anchor", "middle")
    .style("font-size", "45px")
    .attr("fill", grey)
    .text(d => d[0]);

// legend, laid out from the measured text widths
const legend = svg.append("g");
const legendTitle = legend.append("text")
    .attr("x", 34).attr("y", 51)
    .style("font-size", "39px")
    .style("font-weight", 700)
    .attr("fill", grey)
    .text("Suurin puolue äänestysalueella");

let cursor = 34 + legendTitle.node().getComputedTextLength() + 34;
partyNames.forEach(name => {
    legend.append("circle")
        .attr("cx", cursor + 20).attr("cy", 36).attr("r", 20)
        .attr("fill", color(name));
    const t = legend.append("text")
        .attr("x", cursor + 48).attr("y", 51)
        .style("font-size", "39px")
        .attr("fill", grey)
        .text(name);
    cursor += 48 + t.node().getComputedTextLength() + 21;
});
</script>
</body>
</html>
